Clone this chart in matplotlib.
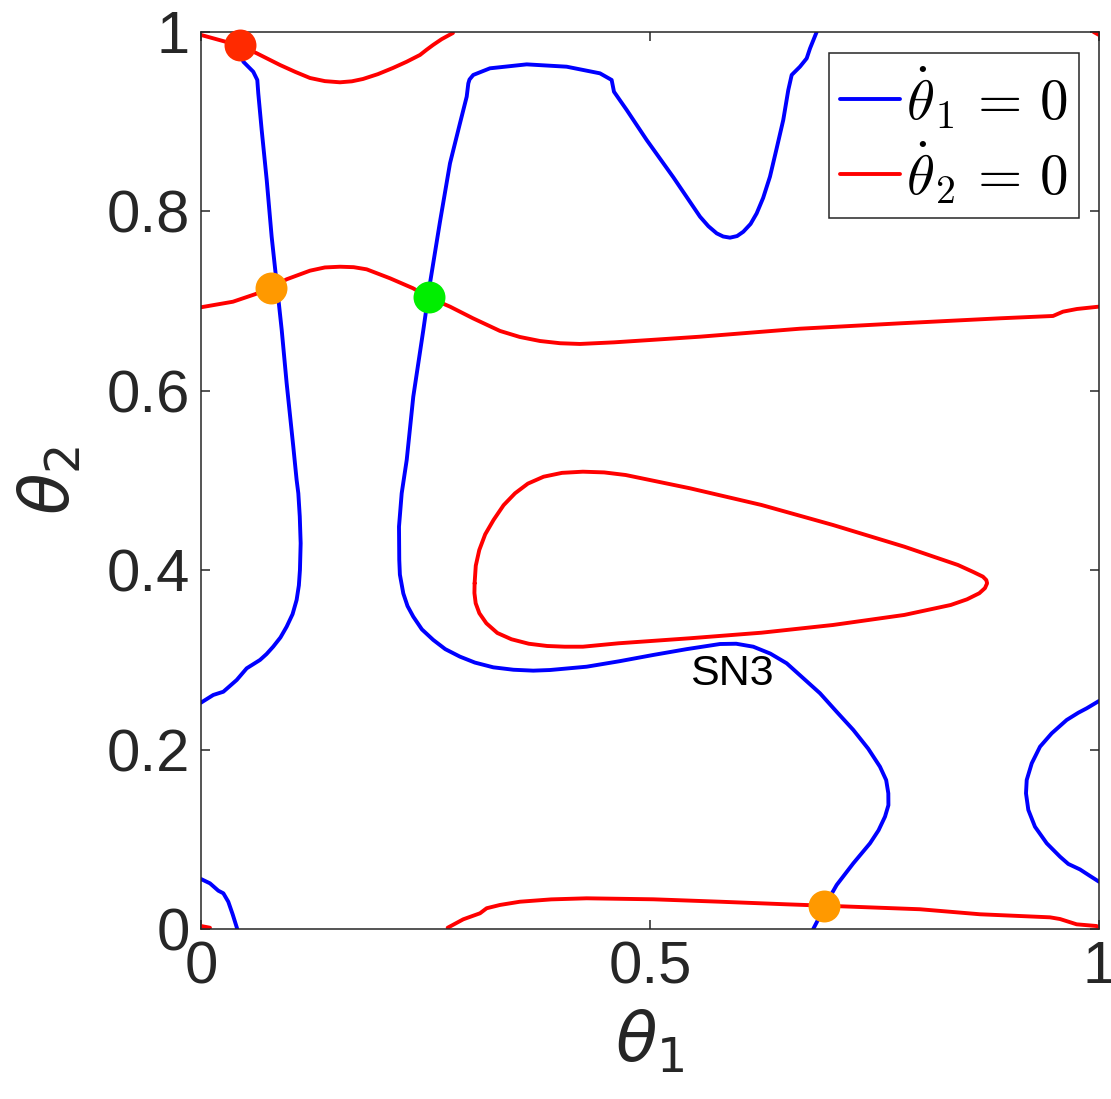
import numpy as np
import matplotlib
matplotlib.use("Agg")
import matplotlib.pyplot as plt
from matplotlib.font_manager import FontProperties

# nullcline theta1_dot = 0 (blue), pieces
blue_left_x = [0.0412, 0.0471, 0.0582, 0.0627, 0.0638, 0.0676, 0.0732, 0.0787, 0.0843, 0.0899,
               0.0954, 0.1028, 0.1065, 0.1084, 0.1100, 0.1110, 0.1102, 0.1090, 0.1065, 0.1020,
               0.0954, 0.0885, 0.0804, 0.0730, 0.0657, 0.0509, 0.0398, 0.0249, 0.0137, 0.0]
blue_left_y = [0.999, 0.9669, 0.9557, 0.9465, 0.9317, 0.8907, 0.8350, 0.7718, 0.7198, 0.6678,
               0.6084, 0.5377, 0.5006, 0.4857, 0.4600, 0.4300, 0.4002, 0.3830, 0.3668, 0.3510,
               0.3370, 0.3250, 0.3147, 0.3065, 0.2999, 0.2906, 0.2776, 0.2645, 0.2609, 0.2523]

blue_mid_x = [0.6818, 0.7004, 0.7079, 0.7264, 0.7450, 0.7545, 0.7617, 0.7655, 0.7654, 0.7630,
              0.7561, 0.7430, 0.7264, 0.7080, 0.6893, 0.6522, 0.6340, 0.6150, 0.5960, 0.5780,
              0.5410, 0.5037, 0.4660, 0.4295, 0.3886, 0.3700, 0.3480, 0.3255, 0.3050, 0.2884,
              0.2720, 0.2587, 0.2460, 0.2364, 0.2300, 0.2253, 0.2215, 0.2208, 0.2205, 0.2235,
              0.2291, 0.2364, 0.2476, 0.2550, 0.2661, 0.2773, 0.2884, 0.2959, 0.2977, 0.2990,
              0.3032, 0.3218, 0.3627, 0.4072, 0.4443, 0.4573, 0.4599, 0.4741, 0.4963, 0.5260,
              0.5557, 0.5650, 0.5743, 0.5815, 0.5891, 0.5970, 0.6039, 0.6120, 0.6188, 0.6260,
              0.6336, 0.6410, 0.6484, 0.6540, 0.6578, 0.6670, 0.6745, 0.6782, 0.6856]
blue_mid_y = [0.0, 0.0360, 0.0491, 0.0732, 0.0955, 0.1100, 0.1252, 0.1380, 0.1512, 0.1660,
              0.1809, 0.2010, 0.2219, 0.2420, 0.2628, 0.2962, 0.3070, 0.3147, 0.3180, 0.3177,
              0.3120, 0.3055, 0.2985, 0.2924, 0.2887, 0.2880, 0.2890, 0.2917, 0.2970, 0.3036,
              0.3120, 0.3222, 0.3340, 0.3482, 0.3600, 0.3741, 0.3950, 0.4114, 0.4485, 0.4857,
              0.5229, 0.5934, 0.6678, 0.7198, 0.7882, 0.8536, 0.8982, 0.9279, 0.9427, 0.9470,
              0.9521, 0.9595, 0.9639, 0.9613, 0.9539, 0.9465, 0.9334, 0.9130, 0.8796, 0.8380,
              0.7941, 0.7835, 0.7755, 0.7720, 0.7707, 0.7725, 0.7773, 0.7860, 0.7978, 0.8150,
              0.8387, 0.8700, 0.9019, 0.9353, 0.9521, 0.9613, 0.9706, 0.9817, 1.0]

blue_corner_x = [0.0, 0.010, 0.0193, 0.0249, 0.0304, 0.0353, 0.0404]
blue_corner_y = [0.0557, 0.0509, 0.0427, 0.0398, 0.0304, 0.0163, 0.0]

blue_right_x = [1.0, 0.9863, 0.9770, 0.9640, 0.9473, 0.9343, 0.9251, 0.9195, 0.9187, 0.9213,
                0.9287, 0.9418, 0.9566, 0.9658, 0.9788, 0.9900, 1.0]
blue_right_y = [0.2542, 0.2460, 0.2411, 0.2330, 0.2181, 0.2032, 0.1847, 0.1661, 0.1512, 0.1327,
                0.1140, 0.0955, 0.0806, 0.0725, 0.0664, 0.0591, 0.0527]

# nullcline theta2_dot = 0 (red)
red_top_x = [0.0, 0.0434, 0.062, 0.088, 0.105, 0.1214, 0.138, 0.1548, 0.168, 0.1804,
             0.197, 0.2138, 0.229, 0.2439, 0.251, 0.2584, 0.268, 0.2806]
red_top_y = [0.9967, 0.9847, 0.9763, 0.9632, 0.9555, 0.9487, 0.9452, 0.9439, 0.9450, 0.9476,
             0.9530, 0.9599, 0.9668, 0.9744, 0.9800, 0.9855, 0.9920, 0.9989]

red_mid_x = [0.0, 0.0356, 0.0601, 0.0780, 0.0954, 0.1214, 0.1380, 0.1548, 0.1700, 0.1845,
             0.2105, 0.2361, 0.2542, 0.2773, 0.3029, 0.3330, 0.3550, 0.3775, 0.4000, 0.4220,
             0.4600, 0.5000, 0.5557, 0.6670, 0.7784, 0.8898, 0.9488, 0.9599, 0.9755, 1.0]
red_mid_y = [0.6931, 0.6993, 0.7076, 0.7149, 0.7243, 0.7339, 0.7375, 0.7383, 0.7378, 0.7354,
             0.7254, 0.7143, 0.7038, 0.6938, 0.6808, 0.6667, 0.6600, 0.6555, 0.6530, 0.6522,
             0.6540, 0.6566, 0.6603, 0.6692, 0.6752, 0.6808, 0.6834, 0.6882, 0.6912, 0.6938]

red_loop_x = [0.3047, 0.3060, 0.3099, 0.3165, 0.3258, 0.3370, 0.3497, 0.3640, 0.3815, 0.4020,
              0.4253, 0.4490, 0.4729, 0.5445, 0.6241, 0.7037, 0.7832, 0.8429, 0.8600, 0.8707,
              0.8745, 0.8754, 0.8730, 0.8667, 0.8530, 0.8349, 0.7832, 0.7037, 0.6241, 0.5445,
              0.4650, 0.4253, 0.4050, 0.3854, 0.3650, 0.3457, 0.3300, 0.3178, 0.3100, 0.3059,
              0.3045, 0.3047]
red_loop_y = [0.3854, 0.4050, 0.4225, 0.4400, 0.4560, 0.4725, 0.4857, 0.4965, 0.5042, 0.5085,
              0.5098, 0.5090, 0.5061, 0.4913, 0.4727, 0.4504, 0.4262, 0.4058, 0.3980, 0.3928,
              0.3890, 0.3854, 0.3800, 0.3743, 0.3675, 0.3612, 0.3501, 0.3389, 0.3303, 0.3241,
              0.3185, 0.3147, 0.3147, 0.3155, 0.3180, 0.3230, 0.3300, 0.3408, 0.3520, 0.3631,
              0.3745, 0.3854]

red_bot_x = [0.2747, 0.2921, 0.3107, 0.3181, 0.3330, 0.3552, 0.3900, 0.4295, 0.5037, 0.5780,
             0.6522, 0.6938, 0.8007, 0.8675, 0.9454, 0.9566, 0.9751, 0.9974, 1.0]
red_bot_y = [0.0014, 0.0108, 0.0175, 0.0231, 0.0268, 0.0304, 0.0330, 0.0342, 0.0331, 0.0304,
             0.0275, 0.0260, 0.0220, 0.0164, 0.0130, 0.0111, 0.0052, 0.0033, 0.0008]

red_bl_x = [0.0, 0.010]
red_bl_y = [0.0033, 0.0014]
red_tr_x = [0.994, 1.0]
red_tr_y = [1.0, 0.9967]

# equilibria
eq_x = [0.0434, 0.0780, 0.2539, 0.6938]
eq_y = [0.9855, 0.7146, 0.7046, 0.0256]
eq_colors = ["#ff2a00", "#ff9900", "#00ee00", "#ff9900"]

plt.rcParams["font.family"] = ["Liberation Sans", "DejaVu Sans"]

fig = plt.figure(figsize=(11.11, 10.99), dpi=100)
ax = fig.add_axes([0.1809, 0.1547, 0.8083, 0.8162])

lw = 2.8
blue = "#0000ff"
red = "#ff0000"
kw = dict(lw=lw, solid_joinstyle="round", solid_capstyle="round")
ax.plot(blue_left_x, blue_left_y, color=blue, label=r"$\dot{\theta}_1\,=\,0$", **kw)
ax.plot(blue_mid_x, blue_mid_y, color=blue, **kw)
ax.plot(blue_corner_x, blue_corner_y, color=blue, **kw)
ax.plot(blue_right_x, blue_right_y, color=blue, **kw)

ax.plot(red_top_x, red_top_y, color=red, label=r"$\dot{\theta}_2\,=\,0$", **kw)
ax.plot(red_mid_x, red_mid_y, color=red, **kw)
ax.plot(red_loop_x, red_loop_y, color=red, **kw)
ax.plot(red_bot_x, red_bot_y, color=red, **kw)
ax.plot(red_bl_x, red_bl_y, color=red, **kw)
ax.plot(red_tr_x, red_tr_y, color=red, **kw)

for x, y, c in zip(eq_x, eq_y, eq_colors):
    ax.plot(x, y, "o", color=c, markersize=23, markeredgewidth=0, zorder=5, clip_on=False)

ax.text(0.5445, 0.272, "SN3", fontsize=31, color="black", ha="left", va="baseline")

ax.set_xlim(0, 1)
ax.set_ylim(0, 1)
ax.set_xticks([0, 0.5, 1])
ax.set_xticklabels(["0", "0.5", "1"])
ax.set_yticks([0, 0.2, 0.4, 0.6, 0.8, 1])
ax.set_yticklabels(["0", "0.2", "0.4", "0.6", "0.8", "1"])
ax.tick_params(direction="in", length=6.5, width=1.1, top=True, right=True,
               labelsize=43, labelcolor="#262626", color="#262626", pad=8)
for s in ax.spines.values():
    s.set_linewidth(1.1)
    s.set_color("#262626")

ax.set_xlabel(r"$\theta_1$", fontsize=49, color="#262626", labelpad=10)
ax.set_ylabel(r"$\theta_2$", fontsize=49, color="#262626", labelpad=16)

leg = ax.legend(loc="upper right", bbox_to_anchor=(0.9777, 0.9769), borderaxespad=0,
                prop=FontProperties(size=41, math_fontfamily="cm"),
                handlelength=1.05, handletextpad=0.1, borderpad=0.2, labelspacing=0.15,
                fancybox=False, framealpha=1, edgecolor="#262626")
leg.get_frame().set_linewidth(1.1)

fig.savefig("out.png", dpi=100)
